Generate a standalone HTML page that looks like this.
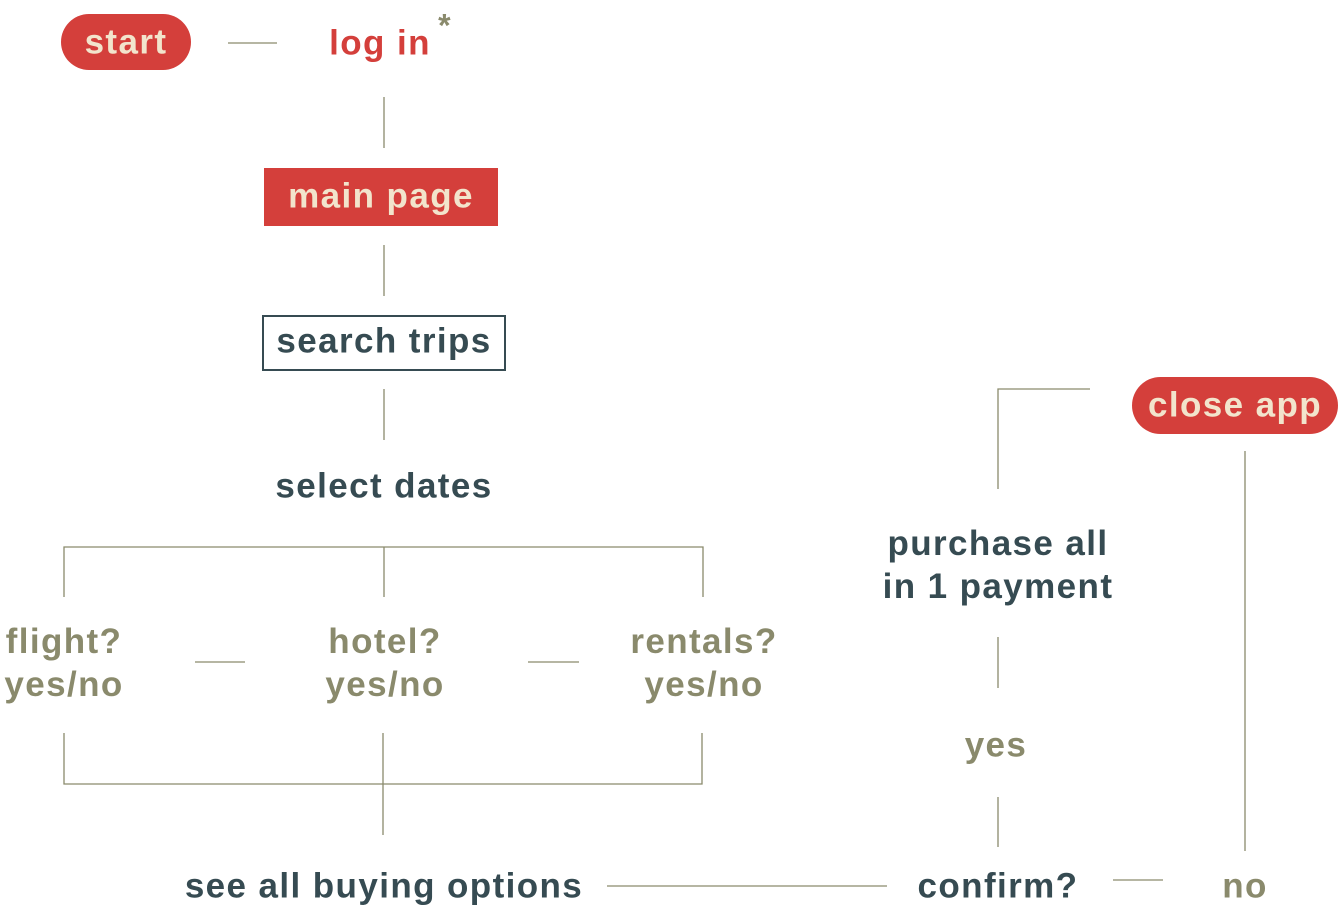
<!DOCTYPE html>
<html><head><meta charset="utf-8"><style>
body{margin:0;width:1338px;height:911px;background:#fff;position:relative;overflow:hidden;font-family:"Liberation Sans",sans-serif;font-weight:bold}
.t{position:absolute;transform:translate(-50%,-50%);white-space:nowrap;font-size:35px;letter-spacing:1.4px;line-height:43px;text-align:center}
.r{color:#d43f3b}.d{color:#364b52}.o{color:#8a8a6c}.c{color:#f2e4cc}
.box{position:absolute}
svg{position:absolute;left:0;top:0}
</style></head><body>
<svg width="1338" height="911" stroke="#8a8a6c" stroke-width="1.3" fill="none">
<line x1="228" y1="43" x2="277" y2="43"/>
<line x1="384" y1="97" x2="384" y2="148"/>
<line x1="384" y1="245" x2="384" y2="296"/>
<line x1="384" y1="389" x2="384" y2="440"/>
<polyline points="64,597 64,547 703,547 703,597"/>
<line x1="384" y1="547" x2="384" y2="597"/>
<line x1="195" y1="662" x2="245" y2="662"/>
<line x1="528" y1="662" x2="579" y2="662"/>
<polyline points="64,733 64,784 702,784 702,733"/>
<line x1="383" y1="733" x2="383" y2="835"/>
<line x1="607" y1="886" x2="887" y2="886"/>
<line x1="1113" y1="880" x2="1163" y2="880"/>
<polyline points="998,489 998,389 1090,389"/>
<line x1="998" y1="637" x2="998" y2="688"/>
<line x1="998" y1="797" x2="998" y2="847"/>
<line x1="1245" y1="451" x2="1245" y2="851"/>
</svg>
<div class="box" style="left:61px;top:14px;width:130px;height:56px;border-radius:28px;background:#d43f3b"></div>
<div class="t c" style="left:126px;top:42px">start</div>
<div class="t r" style="left:380px;top:43px">log in</div>
<div class="t o" style="left:445px;top:26px;font-size:32px">*</div>
<div class="box" style="left:264px;top:168px;width:234px;height:58px;background:#d43f3b"></div>
<div class="t c" style="left:381px;top:196px">main page</div>
<div class="box" style="left:262px;top:315px;width:240px;height:52px;border:2px solid #364b52"></div>
<div class="t d" style="left:384px;top:341px">search trips</div>
<div class="t d" style="left:384px;top:486px">select dates</div>
<div class="t o" style="left:64px;top:663px">flight?<br>yes/no</div>
<div class="t o" style="left:385px;top:663px">hotel?<br>yes/no</div>
<div class="t o" style="left:704px;top:663px">rentals?<br>yes/no</div>
<div class="t d" style="left:384px;top:886px">see all buying options</div>
<div class="t d" style="left:998px;top:886px">confirm?</div>
<div class="t o" style="left:1245px;top:886px">no</div>
<div class="t o" style="left:996px;top:745px">yes</div>
<div class="t d" style="left:998px;top:565px">purchase all<br>in 1 payment</div>
<div class="box" style="left:1132px;top:377px;width:206px;height:57px;border-radius:29px;background:#d43f3b"></div>
<div class="t c" style="left:1235px;top:405px">close app</div>
</body></html>
